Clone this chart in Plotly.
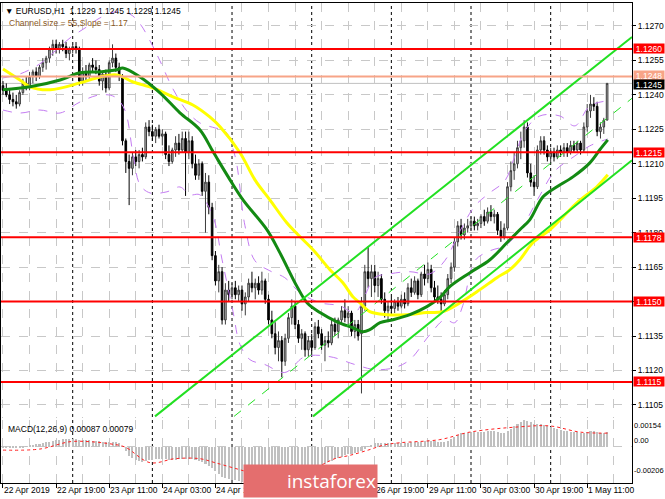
import plotly.graph_objects as go

# ---------------- data ----------------
opens = [1.1244,1.1242,1.1240,1.1238,1.1237,1.1236,1.1241,1.1245,1.1243,1.1248,
         1.1250,1.1248,1.1252,1.1254,1.1256,1.1260,1.1262,1.1260,1.1262,1.1261,
         1.1258,1.1260,1.1261,1.1260,1.1246,1.1250,1.1248,1.1253,1.1252,1.1251,
         1.1246,1.1249,1.1243,1.1254,1.1256,1.1252,1.1248,1.1220,1.1211,1.1208,
         1.1213,1.1211,1.1214,1.1213,1.1226,1.1224,1.1222,1.1225,1.1222,1.1223,
         1.1214,1.1211,1.1216,1.1219,1.1216,1.1221,1.1215,1.1220,1.1210,1.1205,
         1.1210,1.1198,1.1202,1.1191,1.1170,1.1159,1.1163,1.1142,1.1155,1.1153,
         1.1156,1.1153,1.1155,1.1149,1.1152,1.1158,1.1156,1.1158,1.1155,1.1159,
         1.1151,1.1142,1.1136,1.1130,1.1133,1.1124,1.1134,1.1143,1.1148,1.1140,
         1.1134,1.1136,1.1129,1.1133,1.1130,1.1139,1.1136,1.1131,1.1133,1.1132,
         1.1140,1.1137,1.1142,1.1146,1.1143,1.1145,1.1137,1.1140,1.1136,1.1148,
         1.1163,1.1160,1.1163,1.1157,1.1160,1.1151,1.1146,1.1148,1.1147,1.1150,
         1.1148,1.1151,1.1149,1.1156,1.1154,1.1159,1.1153,1.1162,1.1160,1.1164,
         1.1156,1.1152,1.1151,1.1149,1.1153,1.1160,1.1165,1.1176,1.1183,1.1179,
         1.1182,1.1183,1.1185,1.1183,1.1184,1.1187,1.1185,1.1189,1.1187,1.1188,
         1.1181,1.1178,1.1182,1.1200,1.1207,1.1210,1.1217,1.1220,1.1226,1.1206,
         1.1202,1.1200,1.1216,1.1220,1.1216,1.1213,1.1215,1.1213,1.1216,1.1215,
         1.1217,1.1215,1.1218,1.1216,1.1219,1.1216,1.1226,1.1233,1.1236,1.1235,
         1.1224,1.1226,1.1229]
highs = [1.1246,1.1245,1.1243,1.1241,1.1240,1.1242,1.1247,1.1248,1.1250,1.1251,
         1.1252,1.1253,1.1256,1.1257,1.1261,1.1264,1.1264,1.1263,1.1264,1.1263,
         1.1261,1.1263,1.1263,1.1261,1.1252,1.1253,1.1254,1.1256,1.1255,1.1253,
         1.1250,1.1251,1.1255,1.1262,1.1258,1.1254,1.1249,1.1221,1.1214,1.1215,
         1.1216,1.1216,1.1217,1.1228,1.1229,1.1227,1.1226,1.1227,1.1225,1.1224,
         1.1218,1.1217,1.1222,1.1223,1.1224,1.1224,1.1224,1.1222,1.1214,1.1212,
         1.1211,1.1206,1.1205,1.1193,1.1172,1.1166,1.1165,1.1158,1.1159,1.1158,
         1.1159,1.1157,1.1157,1.1154,1.1160,1.1163,1.1160,1.1161,1.1163,1.1160,
         1.1153,1.1146,1.1141,1.1137,1.1135,1.1136,1.1145,1.1151,1.1150,1.1142,
         1.1138,1.1137,1.1135,1.1136,1.1141,1.1142,1.1138,1.1135,1.1137,1.1142,
         1.1143,1.1143,1.1148,1.1151,1.1148,1.1146,1.1142,1.1142,1.1152,1.1166,
         1.1174,1.1166,1.1166,1.1163,1.1162,1.1154,1.1150,1.1152,1.1151,1.1152,
         1.1153,1.1154,1.1158,1.1160,1.1161,1.1160,1.1163,1.1166,1.1167,1.1166,
         1.1159,1.1157,1.1154,1.1155,1.1162,1.1167,1.1178,1.1185,1.1186,1.1184,
         1.1186,1.1187,1.1187,1.1186,1.1188,1.1190,1.1191,1.1192,1.1190,1.1189,
         1.1185,1.1184,1.1202,1.1211,1.1215,1.1220,1.1224,1.1229,1.1228,1.1210,
         1.1205,1.1218,1.1222,1.1222,1.1218,1.1217,1.1217,1.1218,1.1218,1.1219,
         1.1219,1.1220,1.1220,1.1220,1.1220,1.1228,1.1236,1.1240,1.1239,1.1237,
         1.1228,1.1230,1.1245]
lows = [1.1240,1.1239,1.1236,1.1235,1.1234,1.1235,1.1240,1.1242,1.1242,1.1245,
        1.1246,1.1247,1.1250,1.1251,1.1254,1.1257,1.1258,1.1258,1.1259,1.1256,
        1.1255,1.1258,1.1258,1.1244,1.1244,1.1246,1.1247,1.1250,1.1249,1.1244,
        1.1242,1.1241,1.1242,1.1252,1.1250,1.1246,1.1218,1.1206,1.1192,1.1205,
        1.1209,1.1208,1.1211,1.1212,1.1222,1.1220,1.1219,1.1221,1.1218,1.1212,
        1.1209,1.1210,1.1213,1.1214,1.1215,1.1196,1.1212,1.1208,1.1203,1.1203,
        1.1196,1.1180,1.1188,1.1168,1.1157,1.1154,1.1140,1.1140,1.1150,1.1151,
        1.1151,1.1150,1.1146,1.1144,1.1150,1.1154,1.1151,1.1153,1.1153,1.1149,
        1.1140,1.1134,1.1127,1.1124,1.1117,1.1122,1.1132,1.1140,1.1138,1.1132,
        1.1129,1.1126,1.1126,1.1127,1.1129,1.1134,1.1129,1.1124,1.1130,1.1131,
        1.1135,1.1134,1.1140,1.1141,1.1139,1.1135,1.1134,1.1133,1.1110,1.1146,
        1.1156,1.1152,1.1154,1.1152,1.1149,1.1143,1.1141,1.1145,1.1145,1.1146,
        1.1147,1.1147,1.1148,1.1152,1.1153,1.1151,1.1152,1.1157,1.1158,1.1154,
        1.1150,1.1149,1.1145,1.1148,1.1151,1.1158,1.1163,1.1174,1.1177,1.1177,
        1.1180,1.1181,1.1181,1.1181,1.1182,1.1183,1.1184,1.1185,1.1184,1.1179,
        1.1176,1.1177,1.1181,1.1198,1.1203,1.1208,1.1212,1.1217,1.1204,1.1200,
        1.1196,1.1199,1.1214,1.1214,1.1211,1.1210,1.1211,1.1212,1.1213,1.1213,
        1.1213,1.1214,1.1215,1.1215,1.1214,1.1215,1.1224,1.1230,1.1233,1.1222,
        1.1221,1.1223,1.1229]
closes = [1.1242,1.1240,1.1238,1.1237,1.1236,1.1241,1.1245,1.1243,1.1248,1.1250,
          1.1248,1.1252,1.1254,1.1256,1.1260,1.1262,1.1260,1.1262,1.1261,1.1258,
          1.1260,1.1261,1.1260,1.1246,1.1250,1.1248,1.1253,1.1252,1.1251,1.1246,
          1.1249,1.1243,1.1254,1.1256,1.1252,1.1248,1.1220,1.1211,1.1208,1.1213,
          1.1211,1.1214,1.1213,1.1226,1.1224,1.1222,1.1225,1.1222,1.1223,1.1214,
          1.1211,1.1216,1.1219,1.1216,1.1221,1.1215,1.1220,1.1210,1.1205,1.1210,
          1.1198,1.1202,1.1191,1.1170,1.1159,1.1163,1.1142,1.1155,1.1153,1.1156,
          1.1153,1.1155,1.1149,1.1152,1.1158,1.1156,1.1158,1.1155,1.1159,1.1151,
          1.1142,1.1136,1.1130,1.1133,1.1124,1.1134,1.1143,1.1148,1.1140,1.1134,
          1.1136,1.1129,1.1133,1.1130,1.1139,1.1136,1.1131,1.1133,1.1132,1.1140,
          1.1137,1.1142,1.1146,1.1143,1.1145,1.1137,1.1140,1.1135,1.1148,1.1163,
          1.1160,1.1163,1.1157,1.1160,1.1151,1.1146,1.1148,1.1147,1.1150,1.1148,
          1.1151,1.1149,1.1156,1.1154,1.1159,1.1153,1.1162,1.1160,1.1164,1.1156,
          1.1152,1.1151,1.1149,1.1153,1.1160,1.1165,1.1176,1.1183,1.1179,1.1182,
          1.1183,1.1185,1.1183,1.1184,1.1187,1.1185,1.1189,1.1187,1.1188,1.1181,
          1.1178,1.1182,1.1200,1.1207,1.1210,1.1217,1.1220,1.1226,1.1206,1.1202,
          1.1200,1.1216,1.1220,1.1216,1.1213,1.1215,1.1213,1.1216,1.1215,1.1217,
          1.1215,1.1218,1.1216,1.1219,1.1216,1.1226,1.1233,1.1236,1.1235,1.1224,
          1.1226,1.1229,1.1245]
bars = list(range(len(closes)))

# moving averages read at sparse points (bar index, price)
ma_green_x = [0,8.1,17.2,23.2,29.2,34.3,36.1,41.3,47.3,53.3,59.3,63.3,68.4,72.3,79.5,83.4,88.6,91.6,95.5,100.6,105.4,108.4,110.5,113.6,117.5,122.6,127.7,131.6,134.6,140.7,146.7,151.8,155.7,158.7,162.7,166.9,171.7,176.8,179.8,182.2]
ma_green_y = [1.12422,1.12435,1.12465,1.12496,1.12500,1.12509,1.12517,1.12478,1.12409,1.12322,1.12248,1.12152,1.12030,1.11943,1.11813,1.11713,1.11565,1.11495,1.11452,1.11412,1.11386,1.11369,1.11378,1.11408,1.11421,1.11443,1.11478,1.11517,1.11565,1.11626,1.11682,1.11756,1.11813,1.11856,1.11956,1.12000,1.12043,1.12104,1.12161,1.12204]
ma_yellow_x = [0,5.1,8.1,14.2,23.2,29.2,34.3,39.2,45.2,51.2,57.2,62.3,65.4,71.4,75.9,80.4,85.5,89.5,93.4,98.5,102.4,105.4,107.5,110.5,115.7,121.7,127.7,132.5,137.7,143.7,148.8,152.7,155.7,159.6,164.8,168.7,172.9,178.9,182.2]
ma_yellow_y = [1.12513,1.12465,1.12435,1.12422,1.12452,1.12478,1.12487,1.12456,1.12430,1.12391,1.12356,1.12304,1.12261,1.12148,1.12030,1.11943,1.11843,1.11782,1.11726,1.11639,1.11582,1.11521,1.11495,1.11456,1.11443,1.11443,1.11452,1.11456,1.11495,1.11552,1.11604,1.11639,1.11682,1.11756,1.11813,1.11869,1.11930,1.12000,1.12052]

# envelope bands (bar index, price)
band_up_x = [0,5.1,11.1,15.7,20.2,24.7,29.2,33.7,38.2,41.3,44.3,47.3,51.2,55.4,59.3,63.9,66.9,69.9,72.9,75.9,80.4,84.9,89.5,95.5,101.5,106.0,109.0,112.0,116.6,122.6,128.6,133.1,137.7,142.2,146.7,151.2,154.2,157.2,161.7,167.8,172.3,176.8,182.2]
band_up_y = [1.12474,1.12491,1.12535,1.12591,1.12648,1.12691,1.12735,1.12761,1.12752,1.12709,1.12635,1.12548,1.12426,1.12330,1.12278,1.12256,1.12243,1.12134,1.11830,1.11678,1.11634,1.11604,1.11539,1.11495,1.11482,1.11452,1.11526,1.11604,1.11621,1.11630,1.11621,1.11678,1.11808,1.11917,1.11974,1.12026,1.12134,1.12243,1.12308,1.12308,1.12265,1.12352,1.12374]
band_lo_x = [0,5.1,11.1,17.2,23.2,29.2,33.7,36.7,39.2,41.3,44.3,49.4,53.3,56.3,59.3,63.3,66.0,69.3,71.4,74.4,78.9,84.9,90.9,98.5,106.0,112.0,118.1,122.6,128.6,133.1,136.1,138.5,142.2,146.7,151.2,155.7,161.7,166.3,172.3,176.8,182.2]
band_lo_y = [1.12334,1.12321,1.12334,1.12321,1.12369,1.12400,1.12391,1.12334,1.12139,1.12008,1.11973,1.11978,1.11999,1.11965,1.11965,1.11869,1.11682,1.11456,1.11313,1.11247,1.11226,1.11191,1.11260,1.11260,1.11226,1.11204,1.11213,1.11247,1.11356,1.11421,1.11408,1.11482,1.11678,1.11721,1.11743,1.11808,1.11961,1.12069,1.12134,1.12178,1.12208]

# regression channel (bar index, price) endpoints
chan_x = [45.8, 189.5]
chan_upper = [1.11000, 1.12652]
chan_mid_x = [69.6, 189.5]
chan_mid = [1.11000, 1.12385]
chan_lo_x = [93.4, 189.5]
chan_lower = [1.11000, 1.12115]

# horizontal levels
red_levels = [1.1260, 1.1215, 1.1178, 1.1150, 1.1115]
salmon_level = 1.1248
last_price = 1.1245

# MACD
macd_hist = ([-0.00005,-0.00006,-0.00008,-0.00008,-0.00007,-0.00004] +
             [-0.00001,0.00004,0.00008,0.00012,0.00015,0.00018,0.00022] +
             [0.00026,0.00031,0.00036,0.00039,0.00041,0.00043] +
             [0.00044,0.00044,0.00045,0.00045,0.00040,0.00038,0.00037,0.00037] +
             [0.00036,0.00035,0.00033,0.00030,0.00027,0.00028,0.00030,0.00028,0.00024] +
             [0.00005,-0.00025,-0.00050] +
             [-0.00065,-0.00075,-0.00082,-0.00088,-0.00080,-0.00075] +
             [-0.00072,-0.00070,-0.00068,-0.00067,-0.00070,-0.00074,-0.00075,-0.00072,-0.00070,-0.00066,-0.00068] +
             [-0.00066,-0.00070,-0.00076,-0.00080,-0.00088] +
             [-0.00098,-0.00106,-0.00122,-0.00140] +
             [-0.00152,-0.00170,-0.00178,-0.00182,-0.00186,-0.00190] +
             [-0.00194,-0.00198,-0.00201,-0.00203,-0.00205,-0.00206,-0.00204,-0.00200,-0.00196,-0.00194] +
             [-0.00194,-0.00196,-0.00198,-0.00200,-0.00195,-0.00186,-0.00176,-0.00168,-0.00160,-0.00152,-0.00145,-0.00138,-0.00130,-0.00120,-0.00112] +
             [-0.00105,-0.00095,-0.00085,-0.00078,-0.00070,-0.00064,-0.00056,-0.00048,-0.00042,-0.00038,-0.00034,-0.00030,-0.00022,-0.00010,0.00002] +
             [0.00012,0.00020,0.00024,0.00025,0.00022,0.00020] +
             [0.00020,0.00021,0.00022,0.00023,0.00022,0.00024,0.00026,0.00028,0.00027] +
             [0.00030,0.00034,0.00038,0.00036,0.00032] +
             [0.00030,0.00028,0.00030,0.00036,0.00045,0.00058] +
             [0.00070,0.00078,0.00080,0.00082,0.00084,0.00085] +
             [0.00085,0.00086,0.00088,0.00090,0.00090,0.00090,0.00085,0.00080] +
             [0.00078,0.00090,0.00104,0.00118,0.00130,0.00142,0.00152,0.00150,0.00142,0.00132] +
             [0.00134,0.00132,0.00126,0.00118,0.00112,0.00106,0.00102,0.00098,0.00094,0.00090] +
             [0.00088,0.00086,0.00084,0.00080,0.00082,0.00088,0.00094,0.00094,0.00086,0.00080,0.00080,0.00087])
signal_x = [0,11.1,20.2,26.2,32.2,36.7,44.3,51.8,59.3,63.9,70.8,77.4,85.0,94.0,100.0,104.5,110.0,115.0,119.6,131.6,140.7,155.7,164.8,173.8,182.2]
signal_y = [-0.00018,-0.00012,0.00030,0.00030,0.00018,0.0,-0.00090,-0.00067,-0.00067,-0.00090,-0.00127,-0.00160,-0.00170,-0.00120,-0.00067,-0.00048,-0.00018,0.00012,0.00024,0.00042,0.00085,0.00115,0.00120,0.00085,0.00079]

day_separators = [21, 45, 69, 93, 117, 141, 165]
xtick_bars = [0,16,32,48,64,80,96,112,128,144,160,176]
xtick_text = ["22 Apr 2019","22 Apr 19:00","23 Apr 11:00","24 Apr 03:00","24 Apr 19:00",
              "25 Apr 11:00","26 Apr 03:00","26 Apr 19:00","29 Apr 11:00","30 Apr 03:00",
              "30 Apr 19:00","1 May 11:00"]
ytick_vals = [1.1105,1.1120,1.1135,1.1150,1.1165,1.1180,1.1195,1.1210,1.1225,1.1240,1.1255,1.1270]
macd_labels = ["0.00154", "0.00", "-0.00206"]

# ---------------- figure ----------------
FONT = "Liberation Sans"
GRID = "#c8c8c8"
fig = go.Figure()

band_style = dict(color="#c47cf2", width=1, dash="dash")
fig.add_trace(go.Scatter(x=band_up_x, y=band_up_y, mode="lines", line=band_style, line_shape="spline", hoverinfo="skip"))
fig.add_trace(go.Scatter(x=band_lo_x, y=band_lo_y, mode="lines", line=band_style, line_shape="spline", hoverinfo="skip"))

fig.add_trace(go.Candlestick(
    x=bars, open=opens, high=highs, low=lows, close=closes,
    increasing=dict(line=dict(color="#3c3c3c", width=1), fillcolor="#b8b8b8"),
    decreasing=dict(line=dict(color="#000000", width=1), fillcolor="#000000"),
    whiskerwidth=0, hoverinfo="skip"))

fig.add_trace(go.Scatter(x=ma_yellow_x, y=ma_yellow_y, mode="lines", line=dict(color="#ffff00", width=3), line_shape="spline"))
fig.add_trace(go.Scatter(x=ma_green_x, y=ma_green_y, mode="lines", line=dict(color="#138a13", width=3), line_shape="spline"))

fig.add_trace(go.Scatter(x=chan_x, y=chan_upper, mode="lines", line=dict(color="#22e022", width=2)))
fig.add_trace(go.Scatter(x=chan_lo_x, y=chan_lower, mode="lines", line=dict(color="#22e022", width=2)))
fig.add_trace(go.Scatter(x=chan_mid_x, y=chan_mid, mode="lines", line=dict(color="#22e022", width=1, dash="dash")))

fig.add_trace(go.Bar(x=bars, y=macd_hist, marker=dict(color="#c0c0c0", line=dict(width=0)),
                     width=0.62, xaxis="x2", yaxis="y2"))
fig.add_trace(go.Scatter(x=signal_x, y=signal_y, mode="lines", line=dict(color="#ff2020", width=1, dash="dot"),
                         line_shape="spline", xaxis="x2", yaxis="y2"))

shapes = []
for lv in red_levels:
    shapes.append(dict(type="line", xref="paper", x0=0, x1=1, yref="y", y0=lv, y1=lv,
                       line=dict(color="#ff0000", width=2), layer="above"))
shapes.append(dict(type="line", xref="paper", x0=0, x1=1, yref="y", y0=salmon_level, y1=salmon_level,
                   line=dict(color="#f7a487", width=2), layer="above"))
shapes.append(dict(type="line", xref="paper", x0=0, x1=1, yref="y", y0=last_price, y1=last_price,
                   line=dict(color="#c0c0c0", width=1), layer="below"))
for d in day_separators:
    shapes.append(dict(type="line", xref="x", x0=d, x1=d, yref="paper", y0=0, y1=1,
                       line=dict(color="#000000", width=1, dash="dot"), layer="below"))
# separator between panels
shapes.append(dict(type="rect", xref="paper", x0=0, x1=1, yref="paper", y0=0.13125, y1=0.1354,
                   fillcolor="white", line=dict(width=0), layer="above"))

ann = []
for b, t in zip(xtick_bars, xtick_text):
    ann.append(dict(x=b, xref="x2", y=0, yref="paper", yanchor="top", xanchor="left",
                    text=t, showarrow=False, xshift=-1, yshift=0,
                    font=dict(family=FONT, size=8.5, color="#000000")))
for lv in red_levels:
    ann.append(dict(x=1, xref="paper", y=lv, yref="y", xanchor="left", xshift=1, text="%.4f" % lv,
                    showarrow=False, bgcolor="#ff0000", font=dict(family=FONT, size=8.5, color="white"),
                    width=30, height=9, borderpad=0))
ann.append(dict(x=1, xref="paper", y=salmon_level, yref="y", xanchor="left", xshift=1, yshift=1,
                text="%.4f" % salmon_level,
                showarrow=False, bgcolor="#f7a487", font=dict(family=FONT, size=8.5, color="white"),
                width=30, height=9, borderpad=0))
ann.append(dict(x=1, xref="paper", y=last_price, yref="y", xanchor="left", xshift=1, yshift=-1,
                text="%.4f" % last_price,
                showarrow=False, bgcolor="#000000", font=dict(family=FONT, size=8.5, color="white"),
                width=30, height=9, borderpad=0))
for txt, py in zip(macd_labels, [0.10625, 0.075, 0.0125]):
    ann.append(dict(x=1, xref="paper", y=py, yref="paper", xanchor="left", xshift=0, text=txt,
                    showarrow=False, font=dict(family=FONT, size=7.5, color="#000000")))
ann.append(dict(x=0, xref="paper", y=1, yref="paper", xanchor="left", yanchor="top", xshift=2, yshift=-1,
                text="▼ EURUSD,H1  1.1229 1.1245 1.1229 1.1245", showarrow=False,
                font=dict(family=FONT, size=8.5, color="#000000")))
ann.append(dict(x=0, xref="paper", y=1, yref="paper", xanchor="left", yanchor="top", xshift=6, yshift=-13,
                text="Channel size = 55,Slope = 1.17", showarrow=False,
                font=dict(family=FONT, size=8.5, color="#8b5a1e")))
ann.append(dict(x=0, xref="paper", y=0.13125, yref="paper", xanchor="left", yanchor="top", xshift=5, yshift=-2,
                text="MACD(12,26,9) 0.00087 0.00079", showarrow=False,
                font=dict(family=FONT, size=8.5, color="#000000")))
ann.append(dict(x=0.4905, xref="paper", y=0.004, yref="paper", xanchor="center", yanchor="middle",
                text="instaforex", showarrow=False, bgcolor="#e46e6e", width=131, height=30, borderpad=1,
                align="right", font=dict(family="Open Sans", size=19, color="white")))

axis_common = dict(showline=True, linecolor="#000000", linewidth=1, mirror=True, zeroline=False)
fig.update_layout(
    width=665, height=499, margin=dict(l=1, r=33, t=3, b=16),
    paper_bgcolor="white", plot_bgcolor="white", showlegend=False, bargap=0,
    xaxis=dict(domain=[0, 1], anchor="y", range=[-0.6, 189.5], showticklabels=False,
               tickmode="linear", tick0=0, dtick=8, ticks="",
               showgrid=True, gridcolor=GRID, griddash="dash", gridwidth=1,
               rangeslider=dict(visible=False), **axis_common),
    xaxis2=dict(domain=[0, 1], anchor="y2", matches="x", range=[-0.6, 189.5], showticklabels=False,
                tickmode="array", tickvals=xtick_bars, ticks="outside", ticklen=4, tickcolor="#000000",
                showgrid=True, gridcolor=GRID, griddash="dash",
                minor=dict(tick0=0, dtick=8, showgrid=True, gridcolor=GRID, griddash="dash", ticks=""),
                **axis_common),
    yaxis=dict(domain=[0.1354, 1], anchor="x", range=[1.10993, 1.1280], side="right",
               tickmode="array", tickvals=ytick_vals, tickformat=".4f", ticks="outside", ticklen=3,
               tickcolor="#000000", tickfont=dict(family=FONT, size=8.5, color="#000000"),
               showgrid=True, gridcolor=GRID, griddash="dash", **axis_common),
    yaxis2=dict(domain=[0, 0.13125], anchor="x2", range=[-0.00206, 0.00154], side="right",
                tickmode="array", tickvals=[0], showticklabels=False, ticks="",
                showgrid=True, gridcolor=GRID, griddash="dash", **axis_common),
    shapes=shapes, annotations=ann,
)

fig.write_html("out.html", config={"displayModeBar": False},
               post_script="document.body.style.margin='0';document.body.style.overflow='hidden';")
